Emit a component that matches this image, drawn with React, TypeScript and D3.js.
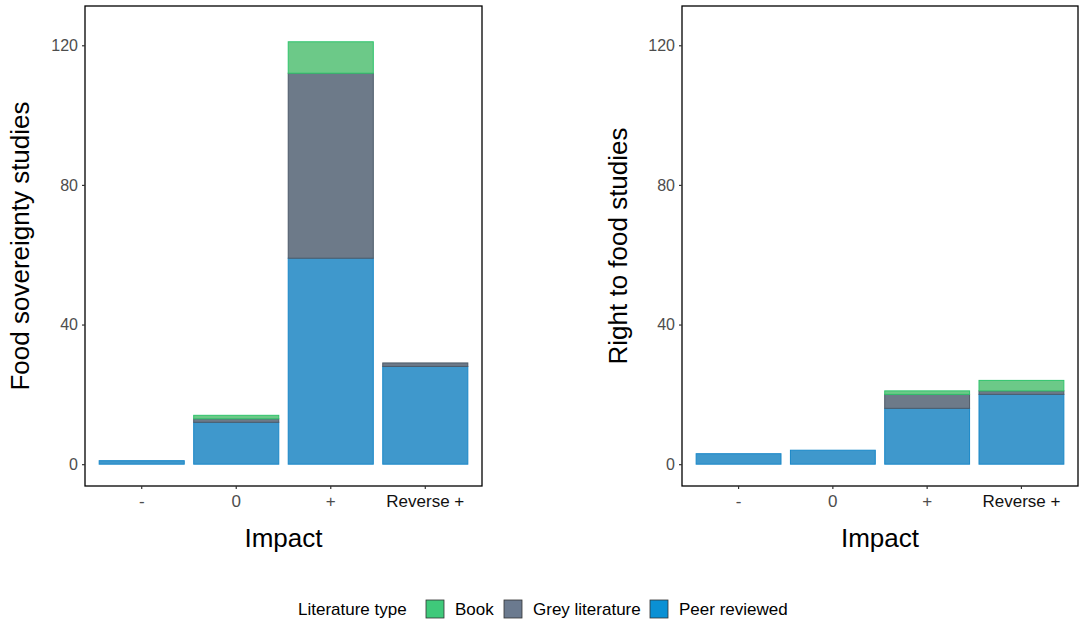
import { useEffect, useRef } from "react";
import * as d3 from "d3";

const categories = ["-", "0", "+", "Reverse +"];
const seriesNames = ["Book", "Grey literature", "Peer reviewed"];

// Food sovereignty studies
const sovBook = [0, 1, 9, 0];
const sovGrey = [0, 1, 53, 1];
const sovPeer = [1, 12, 59, 28];

// Right to food studies
const rtfBook = [0, 0, 1, 3];
const rtfGrey = [0, 0, 4, 1];
const rtfPeer = [3, 4, 16, 20];

const yTicks = [0, 40, 80, 120];

const fills: Record<string, string> = {
  Book: "#6cc988",
  "Grey literature": "#6d7a89",
  "Peer reviewed": "#3f98cc",
};
const strokes: Record<string, string> = {
  Book: "#2fc46c",
  "Grey literature": "#4c5a69",
  "Peer reviewed": "#1987c8",
};
const keyFills: Record<string, string> = {
  Book: "#3fc97a",
  "Grey literature": "#6b7a8f",
  "Peer reviewed": "#0a90d4",
};

const FONT = "'Liberation Sans', Arial, sans-serif";

export default function App() {
  const ref = useRef<SVGSVGElement>(null);

  useEffect(() => {
    if (!ref.current) return;
    document.body.style.margin = "0";
    const svg = d3.select(ref.current);
    svg.selectAll("*").remove();

    const width = 1084;
    const height = 626;
    svg.attr("width", width).attr("height", height).style("font-family", FONT).style("display", "block");

    const panels = [
      { left: 85, right: 482, title: "Food sovereignty studies", titleX: 29, book: sovBook, grey: sovGrey, peer: sovPeer },
      { left: 682, right: 1078, title: "Right to food studies", titleX: 627, book: rtfBook, grey: rtfGrey, peer: rtfPeer },
    ];
    const top = 6;
    const bottom = 486;

    panels.forEach((p) => {
      const y = d3.scaleLinear().domain([-6.25, 131.25]).range([bottom, top]);
      // ggplot-like discrete scale: 0.6 units of expansion, bar width 0.9
      const x = d3
        .scaleBand()
        .domain(categories)
        .range([p.left, p.right])
        .paddingInner(0.1)
        .paddingOuter(0.15);

      const rows = categories.map((c, i) => ({
        cat: c,
        Book: p.book[i],
        "Grey literature": p.grey[i],
        "Peer reviewed": p.peer[i],
      }));
      // stack peer at bottom, then grey, then book
      const stack = d3.stack<any>().keys(["Peer reviewed", "Grey literature", "Book"])(rows);

      const g = svg.append("g");
      stack.forEach((layer) => {
        g.selectAll(null)
          .data(layer.filter((d) => d[1] - d[0] > 0))
          .join("rect")
          .attr("x", (d: any) => x(d.data.cat)!)
          .attr("width", x.bandwidth())
          .attr("y", (d) => y(d[1]))
          .attr("height", (d) => y(d[0]) - y(d[1]))
          .attr("fill", fills[layer.key])
          .attr("stroke", strokes[layer.key])
          .attr("stroke-width", 1);
      });

      // panel border
      svg
        .append("rect")
        .attr("x", p.left)
        .attr("y", top)
        .attr("width", p.right - p.left)
        .attr("height", bottom - top)
        .attr("fill", "none")
        .attr("stroke", "#000")
        .attr("stroke-width", 1.3);

      // y axis
      const ya = svg
        .append("g")
        .attr("transform", `translate(${p.left},0)`)
        .call(d3.axisLeft(y).tickValues(yTicks).tickSize(3).tickPadding(4));
      ya.select(".domain").remove();
      ya.selectAll("line").attr("stroke", "#333").attr("stroke-width", 1.2);
      ya.selectAll("text").attr("fill", "#4d4d4d").style("font-size", "16px").style("font-family", FONT);

      // x axis
      const xa = svg
        .append("g")
        .attr("transform", `translate(0,${bottom})`)
        .call(d3.axisBottom(x).tickSize(3).tickPadding(6));
      xa.select(".domain").remove();
      xa.selectAll("line").attr("stroke", "#333").attr("stroke-width", 1.2);
      xa.selectAll("text")
        .attr("fill", (d: any) => (d === "Reverse +" ? "#111" : "#4d4d4d"))
        .style("font-size", "17px")
        .style("font-family", FONT);

      // axis titles
      svg
        .append("text")
        .attr("x", (p.left + p.right) / 2)
        .attr("y", 547)
        .attr("text-anchor", "middle")
        .style("font-size", "26px")
        .text("Impact");

      svg
        .append("text")
        .attr("transform", `translate(${p.titleX},${(top + bottom) / 2}) rotate(-90)`)
        .attr("text-anchor", "middle")
        .style("font-size", "26px")
        .text(p.title);
    });

    // legend
    const lg = svg.append("g").attr("transform", "translate(0,609)");
    lg.append("text").attr("x", 298).attr("y", 6).style("font-size", "17px").text("Literature type");
    const keyX = [426, 504, 650];
    seriesNames.forEach((s, i) => {
      lg.append("rect")
        .attr("x", keyX[i])
        .attr("y", -9)
        .attr("width", 18)
        .attr("height", 18)
        .attr("fill", keyFills[s])
        .attr("stroke", "#333")
        .attr("stroke-width", 0.8);
      lg.append("text")
        .attr("x", keyX[i] + 29)
        .attr("y", 6)
        .style("font-size", "17px")
        .text(s);
    });
  }, []);

  return <svg ref={ref}></svg>;
}
